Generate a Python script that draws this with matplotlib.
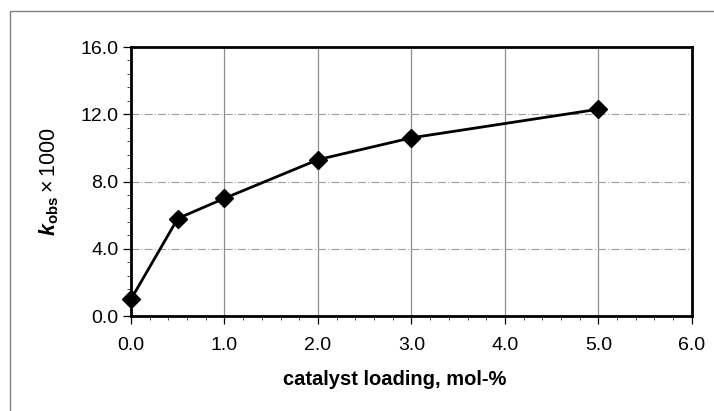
import matplotlib
matplotlib.use("Agg")
import matplotlib.pyplot as plt
from matplotlib.ticker import MultipleLocator, FormatStrFormatter
from matplotlib.patches import Rectangle

# data
catalyst_loading = [0.0, 0.5, 1.0, 2.0, 3.0, 5.0]
k_obs_x1000 = [1.0, 5.8, 7.0, 9.3, 10.6, 12.3]

x_ticks = [0.0, 1.0, 2.0, 3.0, 4.0, 5.0, 6.0]
y_ticks = [0.0, 4.0, 8.0, 12.0, 16.0]

plt.rcParams["font.family"] = ["Liberation Sans", "DejaVu Sans"]
plt.rcParams["mathtext.fontset"] = "custom"
plt.rcParams["mathtext.rm"] = "Liberation Sans"
plt.rcParams["mathtext.bf"] = "Liberation Sans:bold"
plt.rcParams["mathtext.it"] = "Liberation Sans:italic"
plt.rcParams["mathtext.bfit"] = "Liberation Sans:italic:bold"

fig = plt.figure(figsize=(7.14, 4.11), dpi=100)
ax = fig.add_axes([0.1835, 0.2311, 0.7855, 0.6545])

# outer frame of the chart area
fig.patches.append(Rectangle((10 / 714, -0.1), 1.2, 1 - 11 / 411 + 0.1,
                             transform=fig.transFigure, fill=False,
                             edgecolor="#808080", lw=1.0))

ax.plot(catalyst_loading, k_obs_x1000, c="black", ls="-", lw=2.0,
        marker="D", markersize=9, zorder=3, clip_on=False)

ax.set_xlim(0, 6)
ax.set_ylim(0, 16)
ax.set_xticks(x_ticks)
ax.set_yticks(y_ticks)
ax.xaxis.set_major_formatter(FormatStrFormatter("%.1f"))
ax.yaxis.set_major_formatter(FormatStrFormatter("%.1f"))
ax.xaxis.set_minor_locator(MultipleLocator(0.2))
ax.yaxis.set_minor_locator(MultipleLocator(0.8))

# grid lines
for xv in x_ticks[1:-1]:
    ax.axvline(xv, color="#8c8c8c", lw=0.9, zorder=1)
for yv in y_ticks[1:-1]:
    ax.axhline(yv, color="#9a9a9a", lw=0.8, ls=(0, (7, 2, 1, 2)), zorder=1)

ax.tick_params(axis="both", which="major", direction="out", length=6,
               width=0.9, labelsize=14, colors="black", pad=3)
ax.tick_params(axis="both", which="minor", direction="out", length=3,
               width=0.7, colors="#444444")
ax.tick_params(axis="x", which="major", pad=9)

for s in ax.spines.values():
    s.set_linewidth(2.0)
    s.set_color("black")

ax.set_xlabel("catalyst loading, mol-%", fontsize=14.5, fontweight="bold",
              labelpad=8)
ax.xaxis.set_label_coords(0.47, -0.2)
ax.set_ylabel(r"$\mathbfit{k}_{\mathbf{obs}} \times 1000$",
              fontsize=15.5, labelpad=14)

plt.savefig("out.png", dpi=100)
